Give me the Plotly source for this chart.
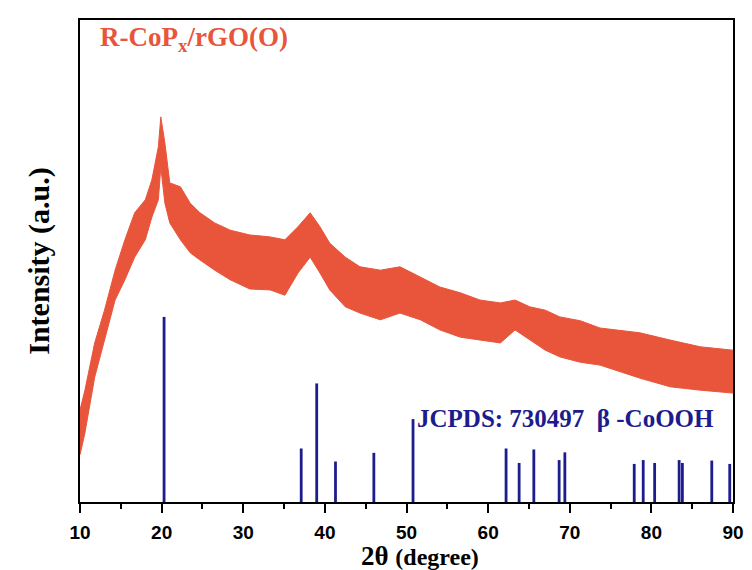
import plotly.graph_objects as go

# XRD pattern: dense noisy band read as upper / lower envelopes
two_theta = [10, 10.6, 11.8, 13, 14.3, 15.5, 16.7, 18, 18.8, 19.6, 19.9, 20.4, 21, 22.3,
             23.5, 24.7, 26.5, 28.4, 30.8, 33.3, 35.1, 36.7, 38.2, 39.4, 40.6, 42.5, 44.3,
             46.8, 49.2, 51.7, 54.1, 56.6, 59, 61.5, 63.3, 65.1, 67, 68.8, 71.3, 73.7,
             78.6, 82.3, 86, 90]
upper = [19.1, 23.2, 33.0, 39.8, 48.1, 54.4, 60.0, 62.7, 66.8, 73.7, 79.9, 74.5, 66.2, 65.4,
         62.0, 60.0, 57.9, 56.4, 55.4, 55.0, 54.4, 57.1, 60.0, 57.1, 53.7, 50.8, 48.8,
         48.1, 48.8, 46.7, 44.6, 43.4, 41.9, 41.3, 41.9, 40.5, 39.8, 38.4, 37.6, 36.1,
         35.1, 33.6, 32.2, 31.5]
lower = [9.8, 14.3, 25.9, 33.6, 41.9, 46.1, 50.8, 54.4, 59.1, 62.7, 69.5, 62.0, 57.9, 54.4,
         51.7, 50.2, 48.1, 46.1, 44.2, 44.0, 42.9, 47.5, 50.8, 47.5, 44.0, 40.5, 39.2,
         37.8, 39.2, 37.8, 35.7, 34.2, 33.6, 33.0, 35.7, 33.6, 31.5, 30.1, 29.0, 28.4,
         25.7, 23.9, 23.2, 22.6]

# JCPDS 73-0497 beta-CoOOH reference sticks
stick_pos = [20.3, 37.1, 39.0, 41.3, 46.0, 50.8, 62.2, 63.8, 65.6, 68.7, 69.4, 77.9,
             79.0, 80.4, 83.4, 83.8, 87.4, 89.6]
stick_h = [38.4, 11.1, 24.6, 8.4, 10.2, 17.2, 11.1, 8.1, 10.9, 8.7, 10.3, 7.9,
           8.7, 8.1, 8.7, 8.1, 8.6, 7.9]

x_ticks = [10, 20, 30, 40, 50, 60, 70, 80, 90]

RED = "#e8553a"
NAVY = "#1c1c8c"

sx, sy = [], []
for p, h in zip(stick_pos, stick_h):
    sx += [p, p, None]
    sy += [0, h, None]

fig = go.Figure()
fig.add_trace(go.Scatter(x=two_theta, y=lower, mode="lines",
                         line=dict(color=RED, width=1), showlegend=False, hoverinfo="skip"))
fig.add_trace(go.Scatter(x=two_theta, y=upper, mode="lines", fill="tonexty",
                         fillcolor=RED, line=dict(color=RED, width=1),
                         showlegend=False))
fig.add_trace(go.Scatter(x=sx, y=sy, mode="lines", line=dict(color=NAVY, width=2.8),
                         showlegend=False))

fig.update_layout(
    width=752, height=570,
    margin=dict(l=80, r=19, t=20, b=68),
    paper_bgcolor="white", plot_bgcolor="white",
    xaxis=dict(range=[10, 90], tickvals=x_ticks, ticktext=[str(t) for t in x_ticks],
               automargin=False,
               showline=True, linecolor="black", linewidth=2, mirror=True,
               ticks="outside", ticklen=9, tickwidth=2, tickcolor="black",
               ticklabelstandoff=3,
               minor=dict(dtick=5, ticks="outside", ticklen=5, tickwidth=2, tickcolor="black"),
               showgrid=False, zeroline=False,
               tickfont=dict(family="Liberation Sans", size=19, color="black", weight="bold")),
    yaxis=dict(range=[0, 100], showline=True, linecolor="black", linewidth=2, mirror=True,
               automargin=False,
               showticklabels=False, ticks="", showgrid=False, zeroline=False,
               title=dict(text="Intensity (a.u.)",
                          font=dict(family="Liberation Serif", size=30, color="black", weight="bold"),
                          standoff=20)),
    annotations=[
        dict(x=0.027, y=0.96, xref="paper", yref="paper", xanchor="left", yanchor="middle",
             text="R-CoP<sub>x</sub>/rGO(O)", showarrow=False,
             font=dict(family="Liberation Serif", size=27, color=RED, weight="bold")),
        dict(x=0.513, y=0.174, xref="paper", yref="paper", xanchor="left", yanchor="middle",
             text="JCPDS: 730497  β -CoOOH", showarrow=False,
             font=dict(family="Liberation Serif", size=25, color=NAVY, weight="bold")),
        dict(x=0.52, y=-0.113, xref="paper", yref="paper", xanchor="center", yanchor="middle",
             text="2θ <span style='font-size:24px'>(degree)</span>", showarrow=False,
             font=dict(family="Liberation Serif", size=27, color="black", weight="bold")),
    ],
)

fig.write_html("out.html")
